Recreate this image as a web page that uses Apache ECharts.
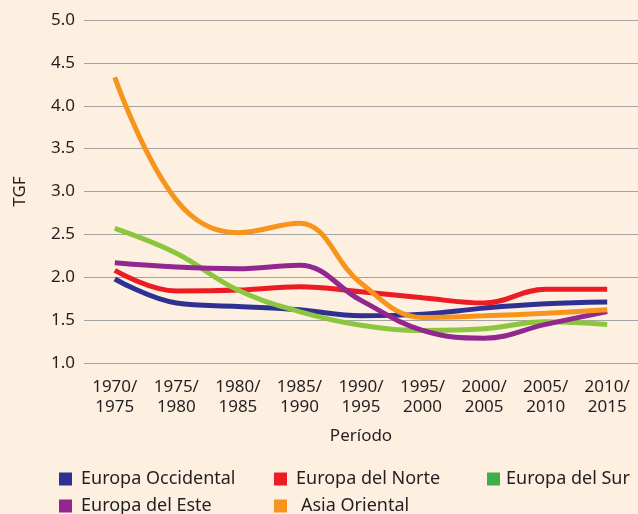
<!DOCTYPE html>
<html><head><meta charset="utf-8">
<script src="https://cdn.jsdelivr.net/npm/echarts@6/dist/echarts.min.js"></script>
<style>html,body{margin:0;padding:0;background:#FDF0E1;}#c{width:638px;height:514px;}</style>
</head><body><div id="c"></div>
<script>
const categories = ['1970/\n1975','1975/\n1980','1980/\n1985','1985/\n1990','1990/\n1995','1995/\n2000','2000/\n2005','2005/\n2010','2010/\n2015'];
const europaOccidental = [1.98,1.70,1.66,1.62,1.55,1.57,1.64,1.69,1.71];
const europaNorte = [2.08,1.84,1.85,1.89,1.83,1.76,1.70,1.86,1.86];
const europaSur = [2.57,2.28,1.85,1.60,1.44,1.38,1.40,1.48,1.45];
const europaEste = [2.17,2.12,2.10,2.14,1.73,1.38,1.29,1.45,1.60];
const asiaOriental = [4.33,2.90,2.52,2.63,1.93,1.53,1.55,1.58,1.62];
const seriesNames = ['Europa Occidental','Europa del Norte','Europa del Sur','Europa del Este','Asia Oriental'];
const lineColors = ['#2E3192','#ED1C24','#8CC63F','#92278F','#F7941D'];
const legendColors = ['#2E3192','#ED1C24','#3DAE49','#92278F','#F7941D'];
const values = [europaOccidental, europaNorte, europaSur, europaEste, asiaOriental];
const legendPos = [[59,470],[274,470],[487,470],[59,497],[274,497]];
const legendTextPad = [9,9,6,9,14];
const font = '"Noto Sans", sans-serif';
const txt = '#231F20';

const chart = echarts.init(document.getElementById('c'));
chart.setOption({
  backgroundColor: '#FDF0E1',
  animation: false,
  textStyle: {fontFamily: font},
  grid: {left: 84, right: 0, top: 20, bottom: 151},
  xAxis: {
    type: 'category', data: categories, boundaryGap: true,
    name: 'Período', nameLocation: 'middle', nameGap: 65,
    nameTextStyle: {fontSize: 17, color: txt, fontFamily: font},
    axisLine: {show: false}, axisTick: {show: false},
    axisLabel: {fontSize: 17, color: txt, lineHeight: 20, margin: 14, fontFamily: font}
  },
  yAxis: {
    type: 'value', min: 1, max: 5, interval: 0.5,
    name: 'TGF', nameLocation: 'middle', nameGap: 55, nameRotate: 90,
    nameTextStyle: {fontSize: 17, color: txt, fontFamily: font},
    axisLine: {show: false}, axisTick: {show: false},
    axisLabel: {fontSize: 17, color: txt, margin: 9, fontFamily: font, formatter: v => v.toFixed(1)},
    splitLine: {lineStyle: {color: '#A3A3A3', width: 1}}
  },
  legend: seriesNames.map((n, i) => ({
    data: [{name: n, itemStyle: {color: legendColors[i]}}],
    left: legendPos[i][0], top: legendPos[i][1],
    icon: 'rect', itemWidth: 13, itemHeight: 13, itemGap: 0,
    textStyle: {fontSize: 18, color: txt, fontFamily: font, padding: [0,0,0,legendTextPad[i] - 5]},
    padding: 0
  })),
  series: seriesNames.map((n, i) => ({
    name: n, type: 'line', data: values[i], smooth: 0.4, symbol: 'none',
    lineStyle: {color: lineColors[i], width: 5}, itemStyle: {color: lineColors[i]}
  }))
});
</script></body></html>
